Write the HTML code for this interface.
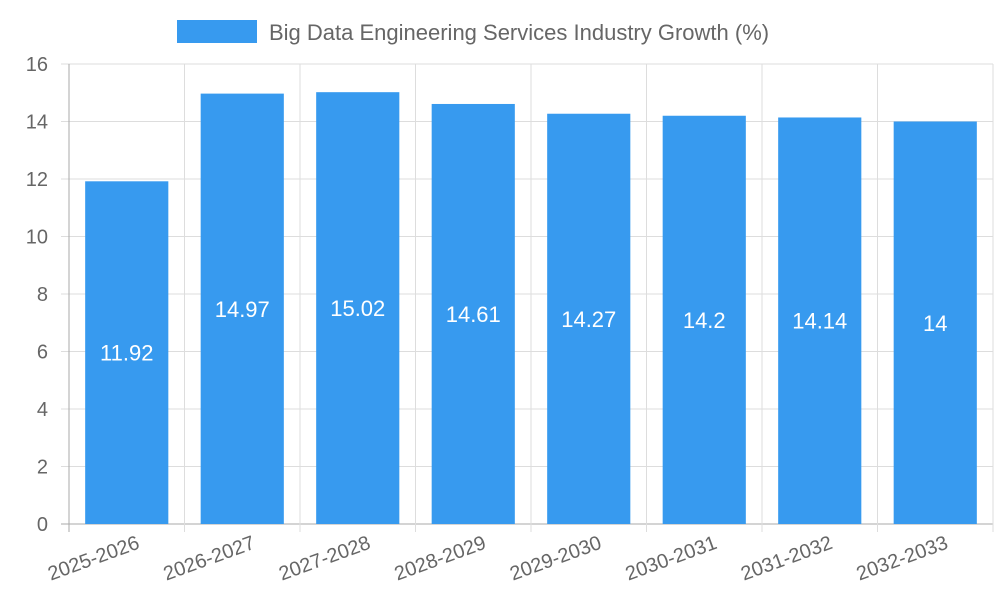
<!DOCTYPE html>
<html><head><meta charset="utf-8"><style>
body{margin:0;background:#fff;font-family:"Liberation Sans",sans-serif}
svg{display:block}
</style></head><body>
<svg id="chart" width="1000" height="600" xmlns="http://www.w3.org/2000/svg">
<g id="legend">
<rect x="177" y="20" width="80" height="23" fill="#379aef"/>
<text x="269" y="40" font-size="22" fill="#666">Big Data Engineering Services Industry Growth (%)</text>
</g>
<g id="grid"></g><g id="bars"></g><g id="axes"></g>
</svg>
<script>
const categories=["2025-2026","2026-2027","2027-2028","2028-2029","2029-2030","2030-2031","2031-2032","2032-2033"];
const values=[11.92,14.97,15.02,14.61,14.27,14.2,14.14,14];
const yTicks=[0,2,4,6,8,10,12,14,16];
const L=69,R=993,T=64,B=524,yMax=16;
const NS="http://www.w3.org/2000/svg";
const step=(R-L)/categories.length;
function y(v){return B-(v/yMax)*(B-T);}
function x(i){return L+i*step;}
function mk(tag,attrs,parent){const e=document.createElementNS(NS,tag);for(const k in attrs)e.setAttribute(k,attrs[k]);parent.appendChild(e);return e;}
const grid=document.getElementById('grid'),bars=document.getElementById('bars'),axes=document.getElementById('axes');
yTicks.forEach(t=>{
  const l=mk('line',{x1:61,x2:R,y1:y(t),y2:y(t),stroke:t===0?'#aaa':'#ddd','stroke-width':1},grid);
  
  
  const tx=mk('text',{x:48,y:y(t)+7,'text-anchor':'end','font-size':20,fill:'#666'},axes);
  tx.textContent=t;
  
  
});
for(let i=0;i<=categories.length;i++){
  const l=mk('line',{x1:x(i),x2:x(i),y1:T,y2:532,stroke:i===0?'#aaa':'#ddd','stroke-width':1},grid);
  
  
}
categories.forEach((c,i)=>{
  const bw=step*0.72,bx=x(i)+(step-bw)/2,top=y(values[i]);
  const r=mk('rect',{x:bx,y:top,width:bw,height:B-top,fill:'#379aef'},bars);
  
  
  const v=mk('text',{x:bx+bw/2,y:(top+B)/2+8,'text-anchor':'middle','font-size':22,fill:'#fff'},bars);
  v.textContent=values[i];
  
  
  const cx=x(i)+step/2+14,cy=548;
  const t=mk('text',{x:cx,y:cy,'text-anchor':'end','font-size':20,fill:'#666',transform:`rotate(-20 ${cx} ${cy})`},axes);
  t.textContent=c;
  
  
});
</script>
</body></html>
